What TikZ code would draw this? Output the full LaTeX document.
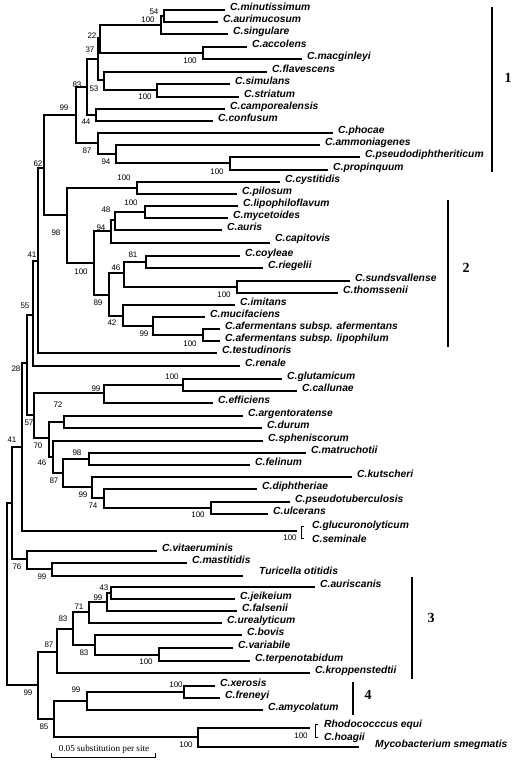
\documentclass[tikz,border=0pt]{standalone}
\usepackage{fontspec}
\setmainfont{Liberation Sans}
\newfontfamily\serifschrift{Liberation Serif}
\usetikzlibrary{calc}

\begin{document}
\begin{tikzpicture}[x=1pt, y=-1pt,
	Ast/.style={line width=1.5pt},
	Art/.style={anchor=base west, inner sep=0pt, xshift=5pt, font=\fontsize{10.3}{12}\selectfont\bfseries\itshape},
	Wert/.style={inner sep=0pt, font=\fontsize{8}{9}\selectfont},
	Gruppe/.style={inner sep=0pt, font=\fontsize{14}{16}\selectfont\serifschrift\bfseries}]
				\useasboundingbox (0,0) rectangle (516,764);
				% Blaetter
				\coordinate (min) at (225,10); \node[Art] (tmin) at (min) {C.minutissimum};
				\coordinate (aur) at (218,22); \node[Art] (taur) at (aur) {C.aurimucosum};
				\coordinate (sing) at (228,34); \node[Art] (tsing) at (sing) {C.singulare};
				\coordinate (acc) at (247,47); \node[Art] (tacc) at (acc) {C.accolens};
				\coordinate (mac) at (302,59); \node[Art] (tmac) at (mac) {C.macginleyi};
				\coordinate (fla) at (267,72); \node[Art] (tfla) at (fla) {C.flavescens};
				\coordinate (sim) at (230,84); \node[Art] (tsim) at (sim) {C.simulans};
				\coordinate (str) at (239,97); \node[Art] (tstr) at (str) {C.striatum};
				\coordinate (cam) at (225,109); \node[Art] (tcam) at (cam) {C.camporealensis};
				\coordinate (con) at (213,121); \node[Art] (tcon) at (con) {C.confusum};
				\coordinate (pho) at (333,133); \node[Art] (tpho) at (pho) {C.phocae};
				\coordinate (amm) at (320,145); \node[Art] (tamm) at (amm) {C.ammoniagenes};
				\coordinate (pse) at (360,157); \node[Art] (tpse) at (pse) {C.pseudodiphtheriticum};
				\coordinate (pro) at (328,170); \node[Art] (tpro) at (pro) {C.propinquum};
				\coordinate (cys) at (280,182); \node[Art] (tcys) at (cys) {C.cystitidis};
				\coordinate (pil) at (237,194); \node[Art] (tpil) at (pil) {C.pilosum};
				\coordinate (lip) at (238,206); \node[Art] (tlip) at (lip) {C.lipophiloflavum};
				\coordinate (myc) at (228,218); \node[Art] (tmyc) at (myc) {C.mycetoides};
				\coordinate (aus) at (222,230); \node[Art] (taus) at (aus) {C.auris};
				\coordinate (cap) at (270,243); \node[Art, yshift=2pt] (tcap) at (cap) {C.capitovis};
				\coordinate (coy) at (240,256); \node[Art] (tcoy) at (coy) {C.coyleae};
				\coordinate (rie) at (263,268); \node[Art] (trie) at (rie) {C.riegelii};
				\coordinate (sun) at (350,281); \node[Art] (tsun) at (sun) {C.sundsvallense};
				\coordinate (tho) at (338,293); \node[Art] (ttho) at (tho) {C.thomssenii};
				\coordinate (imi) at (235,305); \node[Art] (timi) at (imi) {C.imitans};
				\coordinate (muc) at (205,317); \node[Art] (tmuc) at (muc) {C.mucifaciens};
				\coordinate (afa) at (220,329); \node[Art] (tafa) at (afa) {C.afermentans subsp. afermentans};
				\coordinate (afl) at (220,341); \node[Art] (tafl) at (afl) {C.afermentans subsp. lipophilum};
				\coordinate (tes) at (217,353); \node[Art] (ttes) at (tes) {C.testudinoris};
				\coordinate (ren) at (240,366); \node[Art] (tren) at (ren) {C.renale};
				\coordinate (glu) at (282,379); \node[Art] (tglu) at (glu) {C.glutamicum};
				\coordinate (cal) at (297,391); \node[Art] (tcal) at (cal) {C.callunae};
				\coordinate (eff) at (213,403); \node[Art] (teff) at (eff) {C.efficiens};
				\coordinate (arg) at (243,416); \node[Art] (targ) at (arg) {C.argentoratense};
				\coordinate (dur) at (262,428); \node[Art] (tdur) at (dur) {C.durum};
				\coordinate (sph) at (263,441); \node[Art] (tsph) at (sph) {C.spheniscorum};
				\coordinate (mat) at (306,453); \node[Art] (tmat) at (mat) {C.matruchotii};
				\coordinate (fel) at (250,465); \node[Art] (tfel) at (fel) {C.felinum};
				\coordinate (kut) at (352,477); \node[Art] (tkut) at (kut) {C.kutscheri};
				\coordinate (dip) at (257,489); \node[Art] (tdip) at (dip) {C.diphtheriae};
				\coordinate (pst) at (290,502); \node[Art] (tpst) at (pst) {C.pseudotuberculosis};
				\coordinate (ulc) at (268,514); \node[Art] (tulc) at (ulc) {C.ulcerans};
				\coordinate (gsm) at (297,531);
				\node[Art, xshift=10pt] (tglc) at (297,528) {C.glucuronolyticum};
				\node[Art, xshift=10pt] (tsem) at (297,542) {C.seminale};
				\coordinate (vit) at (157,551); \node[Art] (tvit) at (vit) {C.vitaeruminis};
				\coordinate (mas) at (187,563); \node[Art] (tmas) at (mas) {C.mastitidis};
				\coordinate (tur) at (243,576); \node[Art, xshift=11pt, yshift=2pt] (ttur) at (tur) {Turicella otitidis};
				\coordinate (ausc) at (315,587); \node[Art] (tausc) at (ausc) {C.auriscanis};
				\coordinate (jei) at (235,599); \node[Art] (tjei) at (jei) {C.jeikeium};
				\coordinate (fal) at (237,611); \node[Art] (tfal) at (fal) {C.falsenii};
				\coordinate (ure) at (222,623); \node[Art] (ture) at (ure) {C.urealyticum};
				\coordinate (bov) at (242,635); \node[Art] (tbov) at (bov) {C.bovis};
				\coordinate (var) at (233,648); \node[Art] (tvar) at (var) {C.variabile};
				\coordinate (ter) at (250,661); \node[Art] (tter) at (ter) {C.terpenotabidum};
				\coordinate (kro) at (310,673); \node[Art] (tkro) at (kro) {C.kroppenstedtii};
				\coordinate (xer) at (215,686); \node[Art] (txer) at (xer) {C.xerosis};
				\coordinate (fre) at (220,698); \node[Art] (tfre) at (fre) {C.freneyi};
				\coordinate (amy) at (263,710); \node[Art] (tamy) at (amy) {C.amycolatum};
				\coordinate (rho) at (310,728);
				\node[Art, xshift=9pt] (trho) at (310,727) {Rhodococccus equi};
				\node[Art, xshift=9pt] (thoa) at (310,740) {C.hoagii};
				\coordinate (myb) at (359,747); \node[Art, xshift=11pt] (tmyb) at (myb) {Mycobacterium smegmatis};
				% Knoten
				\coordinate (k1) at (164,16);
				\coordinate (k2) at (161,25);
				\coordinate (k3) at (203,53);
				\coordinate (k4) at (100,38);
				\coordinate (k5) at (157,90);
				\coordinate (k6) at (104,80);
				\coordinate (k7) at (98,59);
				\coordinate (k8) at (96,115);
				\coordinate (k9) at (87,87);
				\coordinate (k10) at (230,163);
				\coordinate (k11) at (116,154);
				\coordinate (k12) at (98,143);
				\coordinate (k13) at (76,115);
				\coordinate (k14) at (137,188);
				\coordinate (k15) at (145,212);
				\coordinate (k16) at (115,220);
				\coordinate (k17) at (111,231);
				\coordinate (k18) at (146,262);
				\coordinate (k19) at (237,287);
				\coordinate (k20) at (124,273);
				\coordinate (k21) at (203,335);
				\coordinate (k22) at (153,326);
				\coordinate (k23) at (123,316);
				\coordinate (k24) at (109,295);
				\coordinate (k25) at (94,263);
				\coordinate (k26) at (67,215);
				\coordinate (k27) at (44,168);
				\coordinate (k28) at (38,261);
				\coordinate (k29) at (33,315);
				\coordinate (k30) at (183,385);
				\coordinate (k31) at (104,393);
				\coordinate (k32) at (64,422);
				\coordinate (k33) at (89,459);
				\coordinate (k34) at (211,508);
				\coordinate (k35) at (104,498);
				\coordinate (k36) at (92,487);
				\coordinate (k37) at (63,473);
				\coordinate (k38) at (53,457);
				\coordinate (k39) at (49,438);
				\coordinate (k40) at (34,415);
				\coordinate (k41) at (27,363);
				\coordinate (k42) at (22,447);
				\coordinate (k43) at (52,569);
				\coordinate (k44) at (27,559);
				\coordinate (k45) at (12,503);
				\coordinate (k46) at (111,593);
				\coordinate (k47) at (107,602);
				\coordinate (k48) at (89,612);
				\coordinate (k49) at (159,655);
				\coordinate (k50) at (95,645);
				\coordinate (k51) at (73,629);
				\coordinate (k52) at (57,652);
				\coordinate (k53) at (184,692);
				\coordinate (k54) at (87,701);
				\coordinate (k55) at (198,737);
				\coordinate (k56) at (54,719);
				\coordinate (k57) at (38,685);
				\coordinate (wurzel) at (7,594);
				% Aeste
				\draw[Ast] (k1) |- (min) (k1) |- (aur);
				\draw[Ast] (k2) |- (k1) (k2) |- (sing);
				\draw[Ast] (k3) |- (acc) (k3) |- (mac);
				\draw[Ast] (k4) |- (k2) (k4) |- (k3);
				\draw[Ast] (k5) |- (sim) (k5) |- (str);
				\draw[Ast] (k6) |- (fla) (k6) |- (k5);
				\draw[Ast] (k7) |- (k4) (k7) |- (k6);
				\draw[Ast] (k8) |- (cam) (k8) |- (con);
				\draw[Ast] (k9) |- (k7) (k9) |- (k8);
				\draw[Ast] (k10) |- (pse) (k10) |- (pro);
				\draw[Ast] (k11) |- (amm) (k11) |- (k10);
				\draw[Ast] (k12) |- (pho) (k12) |- (k11);
				\draw[Ast] (k13) |- (k9) (k13) |- (k12);
				\draw[Ast] (k14) |- (cys) (k14) |- (pil);
				\draw[Ast] (k15) |- (lip) (k15) |- (myc);
				\draw[Ast] (k16) |- (k15) (k16) |- (aus);
				\draw[Ast] (k17) |- (k16) (k17) |- (cap);
				\draw[Ast] (k18) |- (coy) (k18) |- (rie);
				\draw[Ast] (k19) |- (sun) (k19) |- (tho);
				\draw[Ast] (k20) |- (k18) (k20) |- (k19);
				\draw[Ast] (k21) |- (afa) (k21) |- (afl);
				\draw[Ast] (k22) |- (muc) (k22) |- (k21);
				\draw[Ast] (k23) |- (imi) (k23) |- (k22);
				\draw[Ast] (k24) |- (k20) (k24) |- (k23);
				\draw[Ast] (k25) |- (k17) (k25) |- (k24);
				\draw[Ast] (k26) |- (k14) (k26) |- (k25);
				\draw[Ast] (k27) |- (k13) (k27) |- (k26);
				\draw[Ast] (k28) |- (k27) (k28) |- (tes);
				\draw[Ast] (k29) |- (k28) (k29) |- (ren);
				\draw[Ast] (k30) |- (glu) (k30) |- (cal);
				\draw[Ast] (k31) |- (k30) (k31) |- (eff);
				\draw[Ast] (k32) |- (arg) (k32) |- (dur);
				\draw[Ast] (k33) |- (mat) (k33) |- (fel);
				\draw[Ast] (k34) |- (pst) (k34) |- (ulc);
				\draw[Ast] (k35) |- (dip) (k35) |- (k34);
				\draw[Ast] (k36) |- (kut) (k36) |- (k35);
				\draw[Ast] (k37) |- (k33) (k37) |- (k36);
				\draw[Ast] (k38) |- (sph) (k38) |- (k37);
				\draw[Ast] (k39) |- (k32) (k39) |- (k38);
				\draw[Ast] (k40) |- (k31) (k40) |- (k39);
				\draw[Ast] (k41) |- (k29) (k41) |- (k40);
				\draw[Ast] (k42) |- (k41) (k42) |- (gsm);
				\draw[Ast] (k43) |- (mas) (k43) |- (tur);
				\draw[Ast] (k44) |- (vit) (k44) |- (k43);
				\draw[Ast] (k45) |- (k42) (k45) |- (k44);
				\draw[Ast] (k46) |- (ausc) (k46) |- (jei);
				\draw[Ast] (k47) |- (k46) (k47) |- (fal);
				\draw[Ast] (k48) |- (k47) (k48) |- (ure);
				\draw[Ast] (k49) |- (var) (k49) |- (ter);
				\draw[Ast] (k50) |- (bov) (k50) |- (k49);
				\draw[Ast] (k51) |- (k48) (k51) |- (k50);
				\draw[Ast] (k52) |- (k51) (k52) |- (kro);
				\draw[Ast] (k53) |- (xer) (k53) |- (fre);
				\draw[Ast] (k54) |- (k53) (k54) |- (amy);
				\draw[Ast] (k55) |- (rho) (k55) |- (myb);
				\draw[Ast] (k56) |- (k54) (k56) |- (k55);
				\draw[Ast] (k57) |- (k52) (k57) |- (k56);
				\draw[Ast] (wurzel) |- (k45) (wurzel) |- (k57);
				% Klammern
				\draw[line width=1pt] (304,526) -- (301,526) -- (301,538) -- (304,538);
				\draw[line width=1pt] (318,724) -- (315,724) -- (315,737) -- (318,737);
				% Bootstrapwerte
				\node[Wert] (w1) at (154,12) {54};
				\node[Wert] (w2) at (148,20) {100};
				\node[Wert] (w3) at (92,36) {22};
				\node[Wert] (w4) at (90,50) {37};
				\node[Wert] (w5) at (190,61) {100};
				\node[Wert] (w6) at (77,85) {83};
				\node[Wert] (w7) at (94,89) {53};
				\node[Wert] (w8) at (145,97) {100};
				\node[Wert] (w9) at (64,108) {99};
				\node[Wert] (w10) at (86,122) {44};
				\node[Wert] (w11) at (87,151) {87};
				\node[Wert] (w12) at (106,162) {94};
				\node[Wert] (w13) at (217,172) {100};
				\node[Wert] (w14) at (38,164) {62};
				\node[Wert] (w15) at (124,178) {100};
				\node[Wert] (w16) at (131,203) {100};
				\node[Wert] (w17) at (106,210) {48};
				\node[Wert] (w18) at (101,228) {94};
				\node[Wert] (w19) at (56,233) {98};
				\node[Wert] (w20) at (32,255) {41};
				\node[Wert] (w21) at (133,255) {81};
				\node[Wert] (w22) at (116,268) {46};
				\node[Wert] (w23) at (81,272) {100};
				\node[Wert] (w24) at (224,295) {100};
				\node[Wert] (w25) at (25,306) {55};
				\node[Wert] (w26) at (98,303) {89};
				\node[Wert] (w27) at (112,323) {42};
				\node[Wert] (w28) at (144,334) {99};
				\node[Wert] (w29) at (190,344) {100};
				\node[Wert] (w30) at (16,369) {28};
				\node[Wert] (w31) at (172,377) {100};
				\node[Wert] (w32) at (96,389) {99};
				\node[Wert] (w33) at (58,405) {72};
				\node[Wert] (w34) at (29,423) {57};
				\node[Wert] (w35) at (12,440) {41};
				\node[Wert] (w36) at (38,446) {70};
				\node[Wert] (w37) at (77,453) {98};
				\node[Wert] (w38) at (42,463) {46};
				\node[Wert] (w39) at (54,481) {87};
				\node[Wert] (w40) at (83,495) {99};
				\node[Wert] (w41) at (93,506) {74};
				\node[Wert] (w42) at (198,515) {100};
				\node[Wert] (w43) at (290,538) {100};
				\node[Wert] (w44) at (17,567) {76};
				\node[Wert] (w45) at (42,577) {99};
				\node[Wert] (w46) at (104,588) {43};
				\node[Wert] (w47) at (98,598) {99};
				\node[Wert] (w48) at (79,607) {71};
				\node[Wert] (w49) at (63,619) {83};
				\node[Wert] (w50) at (49,645) {87};
				\node[Wert] (w51) at (84,653) {83};
				\node[Wert] (w52) at (146,662) {100};
				\node[Wert] (w53) at (176,685) {100};
				\node[Wert] (w54) at (28,693) {99};
				\node[Wert] (w55) at (76,690) {99};
				\node[Wert] (w56) at (44,727) {85};
				\node[Wert] (w57) at (186,745) {100};
				\node[Wert] (w58) at (301,736) {100};
				% Gruppen
				\draw[Ast] (492,7) -- (492,172);
				\node[Gruppe] (g1) at (508,78) {1};
				\draw[Ast] (448,200) -- (448,347);
				\node[Gruppe] (g2) at (466,268) {2};
				\draw[Ast] (412,577) -- (412,679);
				\node[Gruppe] (g3) at (431,618) {3};
				\draw[Ast] (353,682) -- (353,715);
				\node[Gruppe] (g4) at (368,695) {4};
				% Massstab
				\draw[line width=1pt] (51,753) -- (51,757) -- (155,757) -- (155,753);
				\node[inner sep=0pt, font=\fontsize{9.2}{10}\selectfont\serifschrift] (skala) at (104,749) {0.05 substitution per site};
			\end{tikzpicture}
\end{document}
